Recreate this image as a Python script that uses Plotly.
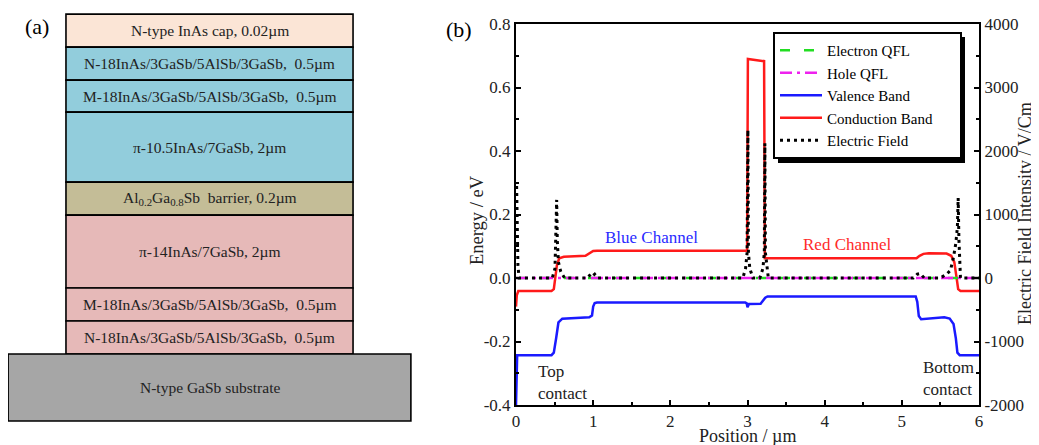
import plotly.graph_objects as go

# ---------------- Panel (a): layer stack (top -> bottom) ----------------
layer_labels = [
    "N-type InAs cap, 0.02µm",
    "N-18InAs/3GaSb/5AlSb/3GaSb,\u00a0 0.5µm",
    "M-18InAs/3GaSb/5AlSb/3GaSb,\u00a0 0.5µm",
    "π-10.5InAs/7GaSb, 2µm",
    "Al<sub>0.2</sub>Ga<sub>0.8</sub>Sb\u00a0 barrier, 0.2µm",
    "π-14InAs/7GaSb, 2µm",
    "M-18InAs/3GaSb/5AlSb/3GaSb,\u00a0 0.5µm",
    "N-18InAs/3GaSb/5AlSb/3GaSb,\u00a0 0.5µm",
    "N-type GaSb substrate",
]
layer_colors = ["#FBE5D6", "#92CDDC", "#92CDDC", "#92CDDC", "#C4BD97",
                "#E6B9B8", "#E6B9B8", "#E6B9B8", "#A6A6A6"]
# schematic (not to scale) drawing heights
layer_draw_height = [1.0, 1.0, 0.97, 2.12, 1.0, 2.21, 1.0, 1.0, 2.03]
layer_draw_width = [1.367] * 8 + [1.918]

# ---------------- Panel (b): band diagram ----------------
cb_x = [0.0, 0.01, 0.03, 0.46, 0.49, 0.51, 0.53, 0.56, 0.62, 0.9, 0.96, 1.0, 1.05,
        2.995, 3.005, 3.1, 3.215, 3.225, 5.19, 5.23, 5.28, 5.35, 5.58, 5.64, 5.68,
        5.71, 5.73, 5.76, 6.0]
cb_y = [-0.09, -0.055, -0.041, -0.041, -0.035, 0.0, 0.04, 0.062, 0.067, 0.07, 0.078,
        0.085, 0.086, 0.086, 0.69, 0.686, 0.683, 0.062, 0.062, 0.07, 0.076, 0.078,
        0.077, 0.07, 0.05, 0.0, -0.035, -0.041, -0.041]

vb_x = [0.0, 0.005, 0.015, 0.46, 0.49, 0.52, 0.55, 0.6, 0.95, 0.985, 1.0, 1.02, 1.05,
        2.97, 2.99, 3.0, 3.02, 3.17, 3.2, 3.23, 3.26, 5.18, 5.2, 5.22, 5.25, 5.35,
        5.55, 5.62, 5.67, 5.7, 5.72, 5.75, 6.0]
vb_y = [-0.40, -0.30, -0.243, -0.243, -0.235, -0.19, -0.14, -0.128, -0.124, -0.118,
        -0.09, -0.079, -0.077, -0.077, -0.08, -0.092, -0.082, -0.081, -0.072, -0.062,
        -0.058, -0.058, -0.075, -0.12, -0.13, -0.128, -0.124, -0.128, -0.145, -0.19,
        -0.235, -0.243, -0.243]

qfl_x = [0.0, 6.0]
eqfl_y = [0.0, 0.0]
hqfl_y = [0.0, 0.0]

ef_x = [0.008, 0.015, 0.025, 0.04, 0.47, 0.505, 0.515, 0.527, 0.535, 0.55, 0.58, 0.63,
        0.93, 0.965, 0.99, 1.02, 1.06, 2.94, 2.975, 2.995, 3.005, 3.012, 3.03, 3.07,
        3.16, 3.2, 3.218, 3.225, 3.232, 3.25, 3.27, 5.15, 5.2, 5.24, 5.29, 5.5, 5.58,
        5.63, 5.67, 5.7, 5.72, 5.73, 5.74, 5.76, 6.0]
ef_y = [1450, 900, 200, 0, 0, 150, 600, 1230, 600, 250, 100, 0,
        0, 60, 30, 60, 0, 0, 150, 400, 2330, 400, 150, 0,
        0, 150, 400, 2120, 400, 150, 0, 0, 60, 70, 0, 0, 60,
        120, 330, 550, 800, 1260, 600, 0, 0]

e_ticks = [-0.4, -0.2, 0.0, 0.2, 0.4, 0.6, 0.8]
e_ticktext = ["-0.4", "-0.2", "0.0", "0.2", "0.4", "0.6", "0.8"]
f_ticks = [-2000, -1000, 0, 1000, 2000, 3000, 4000]
f_ticktext = ["-2000", "-1000", "0", "1000", "2000", "3000", "4000"]
x_ticks = [0, 1, 2, 3, 4, 5, 6]

# page has an 8px body margin: map reference pixels to figure fractions
OX, OY = 8, 8
W, H = 1039 - OX, 445 - OY
FONT = "Liberation Serif"


def fx(p):
    return (p - OX) / W


def fy(p):
    return 1 - (p - OY) / H


fig = go.Figure()

# ----- layer stack as bars with base -----
bases = []
acc = 0.0
for h in reversed(layer_draw_height):
    bases.append(acc)
    acc += h
bases = list(reversed(bases))

fig.add_trace(go.Bar(
    x=[0] * len(layer_labels), y=layer_draw_height, base=bases,
    width=layer_draw_width,
    marker=dict(color=layer_colors, line=dict(color="black", width=1.6)),
    xaxis="x3", yaxis="y3", showlegend=False, hoverinfo="skip",
))
for lab, b, h in zip(layer_labels, bases, layer_draw_height):
    fig.add_annotation(x=0, y=b + h / 2, xref="x3", yref="y3", text=lab,
                       showarrow=False, font=dict(family=FONT, size=15.5, color="#222"))

# ----- band diagram -----
PAD = "\u00a0" * 6
fig.add_trace(go.Scatter(x=vb_x, y=vb_y, mode="lines", name="Valence Band",
                         line=dict(color="#1a1aff", width=2.5), legendrank=3))
fig.add_trace(go.Scatter(x=cb_x, y=cb_y, mode="lines", name="Conduction Band" + PAD,
                         line=dict(color="#ff1a1a", width=2.5), legendrank=4))
fig.add_trace(go.Scatter(x=qfl_x, y=eqfl_y, mode="lines", name="Electron QFL",
                         line=dict(color="#22dd22", width=2.5, dash="10px,14px"), legendrank=1))
fig.add_trace(go.Scatter(x=qfl_x, y=hqfl_y, mode="lines", name="Hole QFL",
                         line=dict(color="#ee22ee", width=2.5, dash="12px,5px,3px,5px"), legendrank=2))
fig.add_trace(go.Scatter(x=ef_x, y=ef_y, mode="lines", name="Electric Field", yaxis="y2",
                         line=dict(color="black", width=3, dash="3px,4px"), legendrank=5))

tickfont = dict(family=FONT, size=17, color="#222")
axis_common = dict(showline=True, linewidth=2, linecolor="black", showgrid=False,
                   zeroline=False, ticks="inside", ticklen=5, tickwidth=1.5,
                   tickcolor="black", tickfont=tickfont, automargin=False)

PX_PER_UNIT_A = 33.0   # panel (a) vertical scale
STACK_BOTTOM = 421     # reference pixel of stack bottom
A_CENTER, A_SCALE = 209.5, 210.0

fig.update_layout(
    width=W, height=H, margin=dict(l=0, r=0, t=0, b=0, pad=0, autoexpand=False),
    paper_bgcolor="white", plot_bgcolor="white", barmode="overlay",
    xaxis=dict(domain=[fx(516), fx(979)], range=[0, 6], tickmode="array", tickvals=x_ticks,
               mirror=True, minor=dict(dtick=0.5, tick0=0, ticks="inside", ticklen=3,
                                       tickcolor="black"), **axis_common),
    yaxis=dict(domain=[fy(405), fy(24)], range=[-0.4, 0.8], tickmode="array",
               tickvals=e_ticks, ticktext=e_ticktext,
               minor=dict(dtick=0.1, tick0=0, ticks="inside", ticklen=3, tickcolor="black"),
               **axis_common),
    yaxis2=dict(overlaying="y", side="right", anchor="x", range=[-2000, 4000],
                tickmode="array", tickvals=f_ticks, ticktext=f_ticktext,
                minor=dict(dtick=500, tick0=0, ticks="inside", ticklen=3, tickcolor="black"),
                **axis_common),
    xaxis3=dict(domain=[0, fx(420)], range=[(OX - A_CENTER) / A_SCALE, (420 - A_CENTER) / A_SCALE],
                visible=False, fixedrange=True, automargin=False),
    yaxis3=dict(domain=[0, 1],
                range=[-(445 - STACK_BOTTOM) / PX_PER_UNIT_A, (STACK_BOTTOM - OY) / PX_PER_UNIT_A],
                visible=False, fixedrange=True, anchor="x3", automargin=False),
    legend=dict(x=fx(773), y=fy(32), xanchor="left", yanchor="top",
                bgcolor="white", bordercolor="black", borderwidth=2,
                font=dict(family=FONT, size=15, color="black"), itemwidth=42,
                tracegroupgap=0),
    showlegend=True,
)

# legend shadow
fig.add_shape(type="rect", xref="paper", yref="paper", x0=fx(778), x1=fx(965),
              y0=fy(163), y1=fy(37), fillcolor="black", line=dict(width=0),
              layer="above")


def pann(text, px, py, size=18, angle=0, color="#222", xanchor="center"):
    fig.add_annotation(x=fx(px), y=fy(py), xref="paper", yref="paper", text=text,
                       showarrow=False, textangle=angle, xanchor=xanchor, yanchor="middle",
                       font=dict(family=FONT, size=size, color=color))


pann("(a)", 37, 27, size=22, color="black")
pann("(b)", 459, 30, size=22, color="black")
pann("Energy / eV", 477, 220, size=18.5, angle=-90)
pann("Electric Field Intensity / V/Cm", 1025, 214, size=18, angle=-90)
pann("Position / µm", 747, 436, size=18)

fig.add_annotation(x=1.75, y=0.129, xref="x", yref="y", text="Blue Channel", showarrow=False,
                   font=dict(family=FONT, size=17, color="#2a2aff"))
fig.add_annotation(x=4.3, y=0.107, xref="x", yref="y", text="Red Channel", showarrow=False,
                   font=dict(family=FONT, size=17, color="#ff2a2a"))
fig.add_annotation(x=0.26, y=-0.33, xref="x", yref="y", text="Top<br>contact", showarrow=False,
                   xanchor="left", align="left", font=dict(family=FONT, size=17, color="#222"))
fig.add_annotation(x=5.25, y=-0.318, xref="x", yref="y", text="Bottom<br>contact",
                   showarrow=False, xanchor="left", align="left",
                   font=dict(family=FONT, size=17, color="#222"))

fig.write_html("out.html")
